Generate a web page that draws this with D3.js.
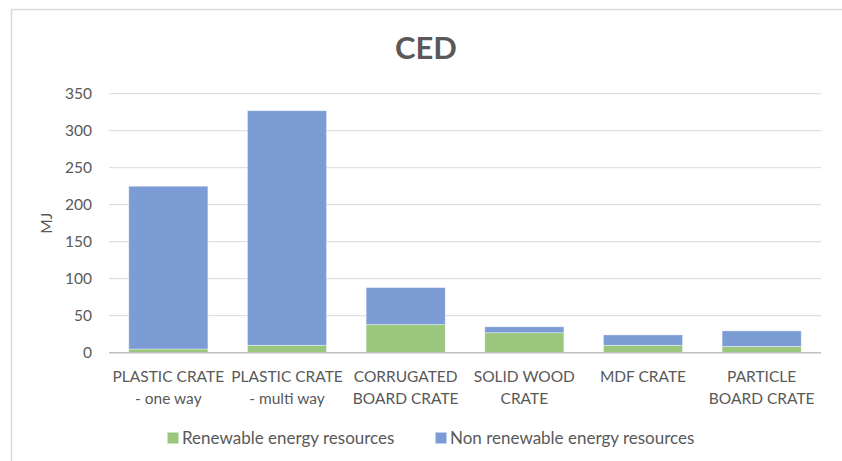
<!DOCTYPE html>
<html>
<head>
<meta charset="utf-8">
<script src="https://cdn.jsdelivr.net/npm/d3@7"></script>
<style>
  html, body { margin: 0; padding: 0; background: #fff; }
  svg { display: block; font-family: Lato, "Open Sans", sans-serif; }
</style>
</head>
<body>
<svg id="chart" width="842" height="461"></svg>
<script>
// Cumulative energy demand per crate type (MJ)
const categories = [
  ["PLASTIC CRATE", "- one way"],
  ["PLASTIC CRATE", "- multi way"],
  ["CORRUGATED", "BOARD CRATE"],
  ["SOLID WOOD", "CRATE"],
  ["MDF CRATE"],
  ["PARTICLE", "BOARD CRATE"]
];
const renewable = [5, 10, 38, 27, 10, 8.5];
const nonRenewable = [220, 317, 50, 8, 14, 21];
const seriesNames = ["Renewable energy resources", "Non renewable energy resources"];
const seriesColors = ["#9BC67E", "#7C9CD6"];
const yTicks = [0, 50, 100, 150, 200, 250, 300, 350];

const svg = d3.select("#chart");
const textColor = "#595959";

// Chart frame
svg.append("rect")
  .attr("x", 11.5).attr("y", 9.5)
  .attr("width", 860).attr("height", 480)
  .attr("fill", "#fff").attr("stroke", "#D9D9D9").attr("stroke-width", 1.5);

// Title
svg.append("text")
  .attr("x", 426).attr("y", 59)
  .attr("text-anchor", "middle")
  .attr("font-size", 31).attr("font-weight", 700)
  .attr("fill", textColor)
  .text("CED");

const plotLeft = 109, plotRight = 821, plotTop = 93.7, plotBottom = 352.7;

const x = d3.scaleBand()
  .domain(d3.range(categories.length))
  .range([plotLeft, plotRight])
  .paddingInner(1 / 3)
  .paddingOuter(1 / 6);

const y = d3.scaleLinear().domain([0, 350]).range([plotBottom, plotTop]);

// Gridlines
svg.append("g")
  .selectAll("line")
  .data(yTicks.filter(d => d > 0))
  .join("line")
  .attr("x1", plotLeft).attr("x2", plotRight)
  .attr("y1", d => y(d)).attr("y2", d => y(d))
  .attr("stroke", "#D9D9D9").attr("stroke-width", 1);

// Y axis labels
const yAxis = d3.axisLeft(y).tickValues(yTicks).tickSize(0).tickPadding(0);
const yg = svg.append("g").attr("transform", `translate(${plotLeft - 17},0)`).call(yAxis);
yg.select(".domain").remove();
yg.selectAll("text")
  .attr("font-family", "Lato, 'Open Sans', sans-serif")
  .attr("font-size", 15.5)
  .attr("fill", textColor);

// Y axis title
svg.append("text")
  .attr("transform", `translate(52,${(plotTop + plotBottom) / 2}) rotate(-90)`)
  .attr("text-anchor", "middle")
  .attr("font-size", 15.5)
  .attr("fill", textColor)
  .text("MJ");

// Stacked bars
const rows = categories.map((c, i) => ({ i, renewable: renewable[i], nonRenewable: nonRenewable[i] }));
const stack = d3.stack().keys(["renewable", "nonRenewable"]);
const layers = stack(rows);

svg.append("g")
  .selectAll("g")
  .data(layers)
  .join("g")
  .attr("fill", (d, k) => seriesColors[k])
  .selectAll("rect")
  .data(d => d)
  .join("rect")
  .attr("x", d => x(d.data.i))
  .attr("width", x.bandwidth())
  .attr("y", d => y(d[1]))
  .attr("height", d => y(d[0]) - y(d[1]))
  .attr("stroke", "#ffffff").attr("stroke-opacity", 0.5).attr("stroke-width", 0.75);

// Baseline
svg.append("line")
  .attr("x1", plotLeft).attr("x2", plotRight)
  .attr("y1", plotBottom).attr("y2", plotBottom)
  .attr("stroke", "#BFBFBF").attr("stroke-width", 1.5);

// Category labels
const xl = svg.append("g")
  .selectAll("text")
  .data(categories)
  .join("text")
  .attr("text-anchor", "middle")
  .attr("font-size", 15.5)
  .attr("fill", textColor)
  .attr("x", (d, i) => x(i) + x.bandwidth() / 2)
  .attr("y", 382);
xl.selectAll("tspan")
  .data(d => d)
  .join("tspan")
  .attr("x", function () { return d3.select(this.parentNode).attr("x"); })
  .attr("dy", (d, j) => j === 0 ? 0 : 21.5)
  .text(d => d);

// Legend
const legendItems = [
  { name: seriesNames[0], color: seriesColors[0], x: 167.5 },
  { name: seriesNames[1], color: seriesColors[1], x: 435.5 }
];
const lg = svg.append("g")
  .selectAll("g")
  .data(legendItems)
  .join("g")
  .attr("transform", d => `translate(${d.x},438)`);
lg.append("rect")
  .attr("x", 0).attr("y", -5.5)
  .attr("width", 11).attr("height", 11)
  .attr("fill", d => d.color);
lg.append("text")
  .attr("x", 14.5).attr("y", 6)
  .attr("font-size", 17)
  .attr("fill", textColor)
  .text(d => d.name);
</script>
</body>
</html>
